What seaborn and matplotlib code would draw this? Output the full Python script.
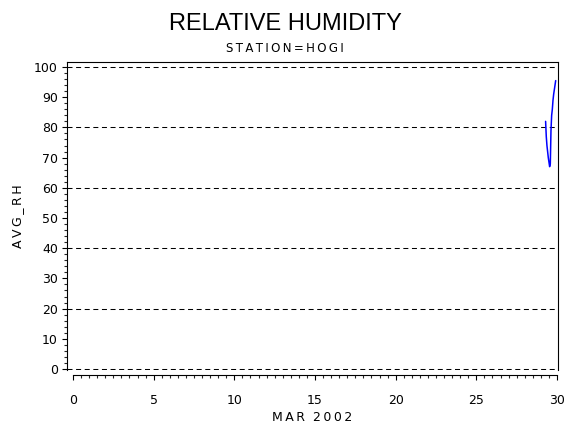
import matplotlib
matplotlib.use("Agg")
import matplotlib.pyplot as plt
from matplotlib.ticker import MultipleLocator
import seaborn as sns
import pandas as pd

# Data: hourly average relative humidity, March 29-30 2002 (day + hour/24)
hours = [7, 8, 9, 10, 11, 12, 13, 14, 15, 16, 17, 18, 19, 20, 21, 22]
rh = [82, 77, 74, 72, 70, 68.5, 67, 68, 79, 84, 86, 89, 91, 92.5, 94, 95.5]
day = 29
x_ticks = [0, 5, 10, 15, 20, 25, 30]
y_ticks = [0, 10, 20, 30, 40, 50, 60, 70, 80, 90, 100]
grid_levels = [0, 20, 40, 60, 80, 100]

df = pd.DataFrame({"DAY": [day + h / 24 for h in hours], "AVG_RH": rh})

sns.set_style("white")
plt.rcParams["font.family"] = ["DejaVu Sans"]
plt.rcParams["lines.scale_dashes"] = False
plt.rcParams["text.color"] = "black"
plt.rcParams["axes.labelcolor"] = "black"

TS = "\u2009"  # thin space for the wide letter spacing of the original

fig = plt.figure(figsize=(5.7, 4.3), dpi=100)
W, H = 570, 430
left, right, top, bottom = 67, 558, 62, 370
ax = fig.add_axes([left / W, 1 - bottom / H, (right - left) / W, (bottom - top) / H])

for g in grid_levels:
    ax.axhline(g, color="black", lw=0.75, linestyle=(0, (3.6, 2.6)), zorder=1)

sns.lineplot(data=df, x="DAY", y="AVG_RH", ax=ax, color="blue", lw=1.1,
             estimator=None, zorder=3)

ax.set_xlim(-0.37, 30.06)
ax.set_ylim(-0.33, 101.66)
ax.set_xticks(x_ticks)
ax.set_yticks(y_ticks)
ax.xaxis.set_minor_locator(MultipleLocator(0.5))
ax.yaxis.set_minor_locator(MultipleLocator(2))

for s in ["left", "right", "top", "bottom"]:
    ax.spines[s].set_color("black")
    ax.spines[s].set_linewidth(0.8)
ax.spines["bottom"].set_position(("outward", 3.8))
ax.spines["bottom"].set_bounds(0, 30)

ax.tick_params(axis="x", which="major", direction="out", length=3.6, width=0.8,
               pad=10, labelsize=9, colors="black", bottom=True)
ax.tick_params(axis="x", which="minor", direction="out", length=2.2, width=0.8,
               bottom=True)
ax.tick_params(axis="y", which="major", direction="out", length=3.6, width=0.8,
               pad=3, labelsize=9, colors="black", left=True)
ax.tick_params(axis="y", which="minor", direction="out", length=2.2, width=0.8,
               left=True)

ax.set_xlabel(TS.join("MAR") + "  " + TS.join("2002"), fontsize=9, labelpad=3)
ax.set_ylabel(TS.join("AVG_RH"), fontsize=9, labelpad=6.8)

fig.text(0.5, 1 - 23.5 / H, "RELATIVE HUMIDITY", ha="center", va="center",
         fontsize=17, color="black",
         family=["Liberation Sans Narrow", "Liberation Sans", "DejaVu Sans"])
fig.text(0.5, 1 - 49 / H, TS.join("STATION=HOGI"), ha="center", va="center",
         fontsize=8.5, color="black")

fig.savefig("out.png", dpi=100)
